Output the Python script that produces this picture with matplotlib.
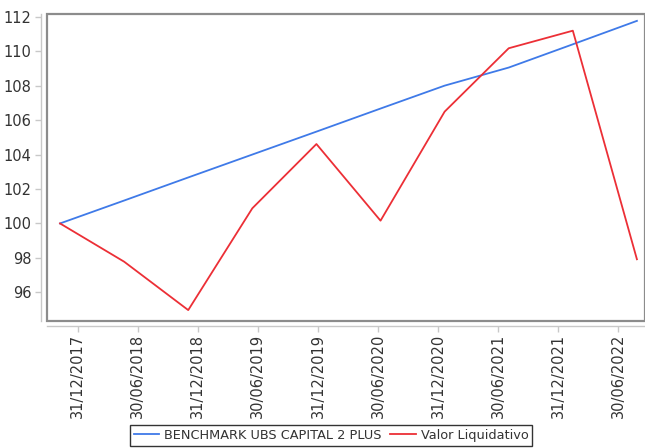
import numpy as np
import matplotlib.pyplot as plt
from matplotlib.patches import Rectangle

plt.rcParams['font.family'] = ['DejaVu Sans']

# data
benchmark = [100.0, 101.33, 102.67, 104.0, 105.33, 106.67, 108.0, 109.05, 110.4, 111.76]
valor_liq = [100.0, 97.78, 94.97, 100.88, 104.61, 100.16, 106.49, 110.17, 111.19, 97.92]
tick_labels = ['31/12/2017', '30/06/2018', '31/12/2018', '30/06/2019', '31/12/2019',
               '30/06/2020', '31/12/2020', '30/06/2021', '31/12/2021', '30/06/2022']
yticks = [96, 98, 100, 102, 104, 106, 108, 110, 112]

x = np.arange(len(benchmark))
# label ticks sit slightly off the data points in the original
tick_pos = 0.276 + 0.937 * np.arange(len(tick_labels))

fig = plt.figure(figsize=(6.45, 4.48), dpi=100)
ax = fig.add_axes([0.0729, 0.284, 0.9271, 0.6848])

ax.plot(x, benchmark, color='#3f7ae8', lw=1.3, label='BENCHMARK UBS CAPITAL 2 PLUS')
ax.plot(x, valor_liq, color='#ec2f36', lw=1.3, label='Valor Liquidativo')

ax.set_xlim(-0.203, 9.126)
ax.set_ylim(94.35, 112.16)

ax.set_yticks(yticks)
ax.set_xticks(tick_pos)
ax.set_xticklabels(tick_labels)

for s in ['top', 'right']:
    ax.spines[s].set_visible(False)
for s in ['left', 'bottom']:
    ax.spines[s].set_position(('outward', 4))
    ax.spines[s].set_color('#c8c8c8')
    ax.spines[s].set_linewidth(1.0)

ax.tick_params(axis='both', colors='#c8c8c8', labelcolor='#333333',
               labelsize=10.5, length=4, width=1.0, pad=3)
ax.tick_params(axis='x', labelrotation=90, pad=1.5)

# plot frame
ax.add_patch(Rectangle((0, 0), 1, 1, transform=ax.transAxes, fill=False,
                       edgecolor='#8c8c8c', lw=1.6, clip_on=False, zorder=5))

leg = fig.legend(loc='center', bbox_to_anchor=(331 / 645, 1 - 435.5 / 448), ncol=2,
                 frameon=True, fancybox=False, fontsize=9.3, handlelength=2.0,
                 handletextpad=0.4, columnspacing=0.6, borderpad=0.3,
                 borderaxespad=0)
leg.get_frame().set_edgecolor('black')
leg.get_frame().set_linewidth(1.0)
for t in leg.get_texts():
    t.set_color('#333333')

fig.savefig('out.png', dpi=100)
